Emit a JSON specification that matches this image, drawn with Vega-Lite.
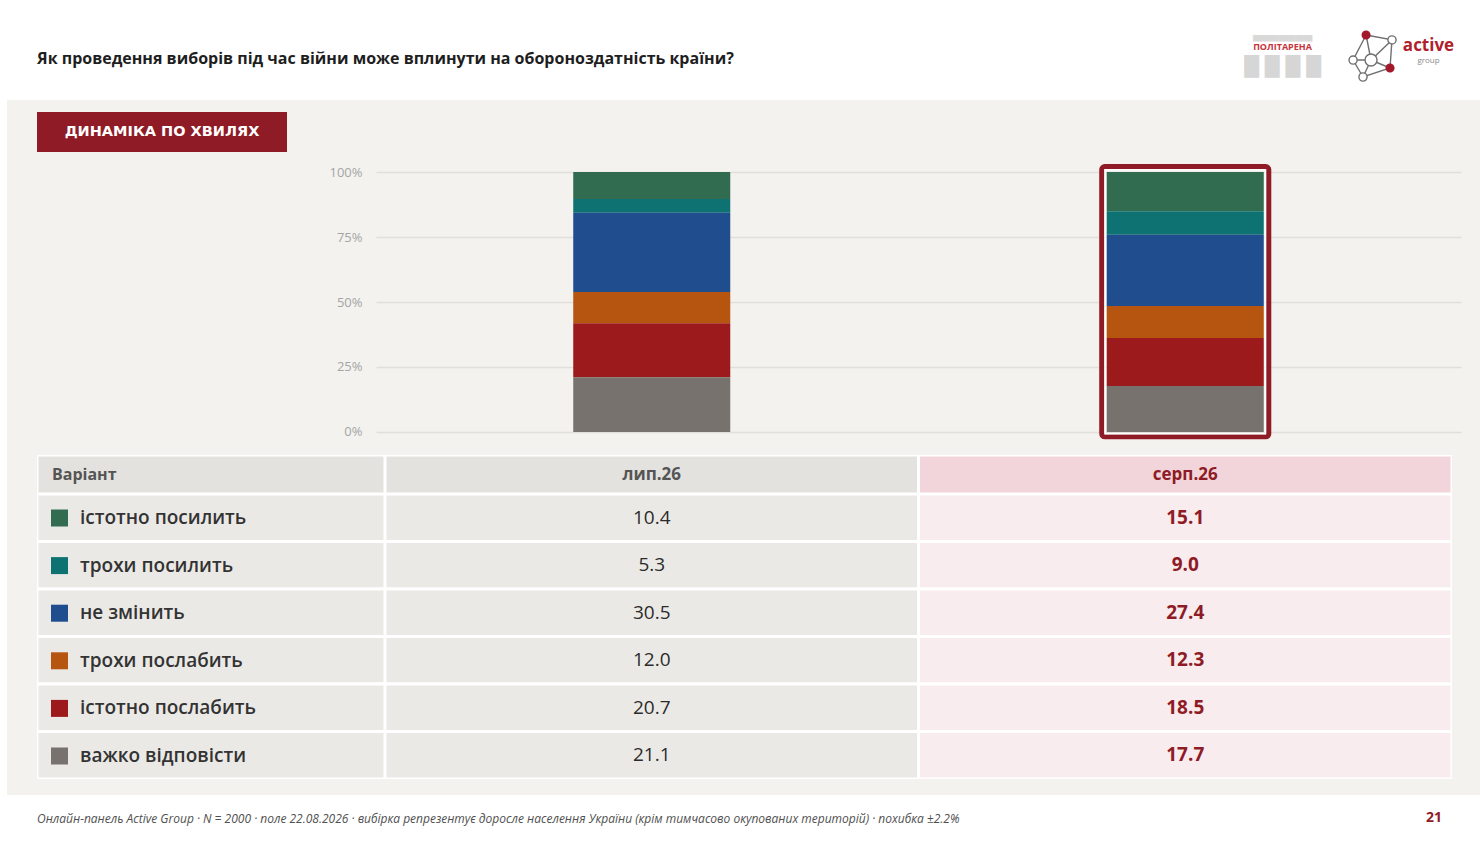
{
  "$schema": "https://vega.github.io/schema/vega-lite/v6.json",
  "background": "#f3f2ee",
  "padding": 0,
  "spacing": 0,
  "config": {"view": {"stroke": null}, "font": "Open Sans", "concat": {"spacing": 0}},
  "data": {"values": [
    {"Хвиля": "лип.26", "Код": 1, "Варіант": "істотно посилить", "Частка": 10.4},
    {"Хвиля": "лип.26", "Код": 2, "Варіант": "трохи посилить", "Частка": 5.3},
    {"Хвиля": "лип.26", "Код": 3, "Варіант": "не змінить", "Частка": 30.5},
    {"Хвиля": "лип.26", "Код": 4, "Варіант": "трохи послабить", "Частка": 12.0},
    {"Хвиля": "лип.26", "Код": 5, "Варіант": "істотно послабить", "Частка": 20.7},
    {"Хвиля": "лип.26", "Код": 6, "Варіант": "важко відповісти", "Частка": 21.1},
    {"Хвиля": "серп.26", "Код": 1, "Варіант": "істотно посилить", "Частка": 15.1},
    {"Хвиля": "серп.26", "Код": 2, "Варіант": "трохи посилить", "Частка": 9.0},
    {"Хвиля": "серп.26", "Код": 3, "Варіант": "не змінить", "Частка": 27.4},
    {"Хвиля": "серп.26", "Код": 4, "Варіант": "трохи послабить", "Частка": 12.3},
    {"Хвиля": "серп.26", "Код": 5, "Варіант": "істотно послабить", "Частка": 18.5},
    {"Хвиля": "серп.26", "Код": 6, "Варіант": "важко відповісти", "Частка": 17.7}
  ]},
  "vconcat": [
    {"spacing": 0, "hconcat": [
      {"width": 1230, "height": 100, "view": {"fill": "#ffffff", "stroke": null},
       "title": {"text": "Як проведення виборів під час війни може вплинути на обороноздатність країни?", "anchor": "start", "frame": "group", "orient": "top", "offset": -75, "dx": 37, "baseline": "middle", "font": "Open Sans", "fontSize": 16, "fontWeight": "bold", "color": "#1e1e1e"},
       "data": {"values": [{}]}, "mark": {"type": "rect", "opacity": 0}},
      {"width": 105, "height": 100, "view": {"fill": "#ffffff", "stroke": null},
       "data": {"values": [{}]},
       "layer": [
         {"mark": {"type": "text", "text": "▄▄▄▄▄▄▄", "font": "DejaVu Sans", "fontSize": 11, "color": "#d9d9d9", "dy": -14}},
         {"mark": {"type": "text", "text": "█ █ █ █", "font": "DejaVu Sans", "fontSize": 19, "color": "#d6d6d6", "dy": 17}},
         {"mark": {"type": "text", "text": "ПОЛІТАРЕНА", "font": "Open Sans", "fontSize": 9, "fontWeight": "bold", "color": "#c8333a", "dy": -3}}
       ]},
      {"width": 65, "height": 100, "view": {"fill": "#ffffff", "stroke": null},
       "data": {"values": [{}]},
       "layer": [
         {"mark": {"type": "point", "shape": "M-0.06,-0.625L1.02,-0.42L0.938,0.75L-0.187,1.125L-0.6,0.417Z M-0.06,-0.625L0.147,0.417L1.02,-0.42 M-0.6,0.417L0.147,0.417L0.938,0.75 M0.147,0.417L-0.187,1.125", "size": 2304, "filled": false, "stroke": "#707070", "strokeWidth": 1.4, "opacity": 1}},
         {"mark": {"type": "point", "shape": "M0.85,-0.42a0.17,0.17 0 1,0 0.34,0a0.17,0.17 0 1,0 -0.34,0Z M-0.103,0.417a0.25,0.25 0 1,0 0.5,0a0.25,0.25 0 1,0 -0.5,0Z M-0.77,0.417a0.17,0.17 0 1,0 0.34,0a0.17,0.17 0 1,0 -0.34,0Z M-0.357,1.125a0.17,0.17 0 1,0 0.34,0a0.17,0.17 0 1,0 -0.34,0Z", "size": 2304, "filled": true, "fill": "#ffffff", "stroke": "#707070", "strokeWidth": 1.4, "opacity": 1}},
         {"mark": {"type": "point", "shape": "M-0.25,-0.625a0.19,0.19 0 1,0 0.38,0a0.19,0.19 0 1,0 -0.38,0Z M0.748,0.75a0.19,0.19 0 1,0 0.38,0a0.19,0.19 0 1,0 -0.38,0Z", "size": 2304, "filled": true, "fill": "#a3192b", "strokeWidth": 0, "opacity": 1}}
       ]},
      {"width": 57, "height": 100, "view": {"fill": "#ffffff", "stroke": null},
       "data": {"values": [{}]},
       "layer": [
         {"mark": {"type": "text", "text": "active", "font": "Open Sans", "fontSize": 17, "fontWeight": "bold", "color": "#b01f2e", "dy": -4}},
         {"mark": {"type": "text", "text": "group", "font": "Open Sans", "fontSize": 8, "color": "#8a8a8a", "dy": 11}}
       ]},
      {"width": 23, "height": 100, "view": {"fill": "#ffffff", "stroke": null}, "data": {"values": [{}]}, "mark": {"type": "rect", "opacity": 0}}
    ]},
    {"spacing": 0, "hconcat": [
      {"width": 7, "height": 695, "view": {"fill": "#ffffff", "stroke": null}, "data": {"values": [{}]}, "mark": {"type": "rect", "opacity": 0}},
      {"spacing": 0, "vconcat": [
        {"width": 1, "height": 12, "data": {"values": [{}]}, "mark": {"type": "rect", "opacity": 0}},
        {"spacing": 0, "hconcat": [
          {"width": 30, "height": 40, "data": {"values": [{}]}, "mark": {"type": "rect", "opacity": 0}},
          {"width": 250, "height": 40, "view": {"fill": "#8e1b25", "stroke": null}, "data": {"values": [{}]},
           "mark": {"type": "text", "text": "ДИНАМІКА ПО ХВИЛЯХ", "font": "DejaVu Sans", "fontSize": 14.5, "fontWeight": "bold", "color": "#ffffff"}}
        ]},
        {"width": 1, "height": 12, "data": {"values": [{}]}, "mark": {"type": "rect", "opacity": 0}},
        {"spacing": 0, "hconcat": [
          {"width": 321, "height": 276, "data": {"values": [{}]}, "mark": {"type": "rect", "opacity": 0}},
          {"width": 1085, "height": 276,
           "layer": [
             {"mark": {"type": "bar"},
              "encoding": {
                "x": {"field": "Хвиля", "type": "nominal", "sort": ["лип.26", "серп.26"], "axis": null, "scale": {"paddingInner": 0.7057, "paddingOuter": 0.3697}},
                "y": {"field": "Частка", "type": "quantitative", "stack": "zero", "scale": {"domain": [-3.08, 103.08], "nice": false, "zero": false},
                      "axis": {"values": [0, 25, 50, 75, 100], "labelExpr": "datum.value + '%'", "title": null, "domain": false, "ticks": false, "labelPadding": 14, "labelColor": "#a5a5a5", "labelFont": "Open Sans", "labelFontSize": 13, "grid": true, "gridColor": "#e1dfdb", "gridWidth": 1.3}},
                "color": {"field": "Варіант", "type": "nominal",
                          "sort": ["істотно посилить", "трохи посилить", "не змінить", "трохи послабить", "істотно послабить", "важко відповісти"],
                          "scale": {"domain": ["істотно посилить", "трохи посилить", "не змінить", "трохи послабить", "істотно послабить", "важко відповісти"],
                                    "range": ["#326c50", "#0e7272", "#1f4d8d", "#b55510", "#9c1a1c", "#77726d"]},
                          "legend": {"orient": "none", "legendX": 50, "legendY": 508.5, "direction": "vertical", "title": null, "symbolType": "square", "symbolSize": 289, "symbolStrokeWidth": 0, "symbolOpacity": 1, "labelFont": "Open Sans", "labelFontSize": 19, "labelFontWeight": 600, "labelColor": "#333333", "labelOffset": 11, "rowPadding": 27.6, "padding": 0, "labelLimit": 400}},
                "order": {"field": "Код", "type": "quantitative", "sort": "descending"}
              }},
             {"transform": [{"filter": "datum['Хвиля'] === 'серп.26'"}, {"aggregate": [{"op": "sum", "field": "Частка", "as": "Разом"}], "groupby": ["Хвиля"]}],
              "mark": {"type": "bar", "fill": "transparent", "stroke": "#8e1b25", "strokeWidth": 5, "cornerRadius": 3, "width": {"band": 1.064}},
              "encoding": {
                "x": {"field": "Хвиля", "type": "nominal", "sort": ["лип.26", "серп.26"], "axis": null},
                "y": {"datum": 102.1}, "y2": {"datum": -1.85}}},
             {"transform": [{"filter": "datum['Хвиля'] === 'серп.26'"}, {"aggregate": [{"op": "sum", "field": "Частка", "as": "Разом"}], "groupby": ["Хвиля"]}],
              "mark": {"type": "bar", "fill": "transparent", "stroke": "#ffffff", "strokeWidth": 1.5, "width": {"band": 1.02}},
              "encoding": {
                "x": {"field": "Хвиля", "type": "nominal", "sort": ["лип.26", "серп.26"], "axis": null},
                "y": {"datum": 100.9}, "y2": {"datum": -0.7}}}
           ]}
        ]},
        {"width": 1, "height": 15, "data": {"values": [{}]}, "mark": {"type": "rect", "opacity": 0}},
        {"spacing": 0, "hconcat": [
          {"width": 30, "height": 324, "data": {"values": [{}]}, "mark": {"type": "rect", "opacity": 0}},
          {"spacing": 0, "vconcat": [
            {"spacing": 0, "hconcat": [
              {"width": 348, "height": 39, "view": {"fill": "#ffffff", "stroke": null},
               "data": {"values": [{"Колонка": "Варіант"}]},
               "layer": [
                 {"mark": {"type": "rect", "fill": "#e4e2df", "stroke": "#ffffff", "strokeWidth": 3, "clip": true}},
                 {"mark": {"type": "text", "align": "left", "baseline": "middle", "dx": 15, "font": "Open Sans", "fontSize": 16, "fontWeight": "bold", "color": "#555555"},
                  "encoding": {"x": {"datum": "Варіант", "type": "nominal", "bandPosition": 0, "axis": null, "scale": {"type": "band", "paddingInner": 0, "paddingOuter": 0}},
                               "text": {"field": "Колонка"}}}
               ]},
              {"width": 1067, "height": 39, "view": {"fill": "#ffffff", "stroke": null},
               "transform": [{"aggregate": [{"op": "count", "as": "n"}], "groupby": ["Хвиля"]}],
               "encoding": {"x": {"field": "Хвиля", "type": "nominal", "sort": ["лип.26", "серп.26"], "axis": null, "scale": {"type": "band", "paddingInner": 0, "paddingOuter": 0}}},
               "layer": [
                 {"mark": {"type": "rect", "stroke": "#ffffff", "strokeWidth": 3, "clip": true},
                  "encoding": {"fill": {"condition": {"test": "datum['Хвиля'] === 'серп.26'", "value": "#f2d5da"}, "value": "#e4e2df"}}},
                 {"mark": {"type": "text", "baseline": "middle", "font": "Open Sans", "fontSize": 17, "fontWeight": "bold"},
                  "encoding": {"text": {"field": "Хвиля"},
                               "color": {"condition": {"test": "datum['Хвиля'] === 'серп.26'", "value": "#8e1b25"}, "value": "#555555"}}}
               ]}
            ]},
            {"spacing": 0, "hconcat": [
              {"width": 348, "height": 285, "view": {"fill": "#ffffff", "stroke": null},
               "transform": [{"filter": "datum['Хвиля'] === 'лип.26'"}],
               "mark": {"type": "rect", "fill": "#ebe9e6", "stroke": "#ffffff", "strokeWidth": 3, "clip": true},
               "encoding": {"y": {"field": "Варіант", "type": "nominal", "sort": ["істотно посилить", "трохи посилить", "не змінить", "трохи послабить", "істотно послабить", "важко відповісти"], "axis": null, "scale": {"type": "band", "paddingInner": 0, "paddingOuter": 0}}}},
              {"width": 1067, "height": 285, "view": {"fill": "#ffffff", "stroke": null},
               "encoding": {
                 "x": {"field": "Хвиля", "type": "nominal", "sort": ["лип.26", "серп.26"], "axis": null, "scale": {"type": "band", "paddingInner": 0, "paddingOuter": 0}},
                 "y": {"field": "Варіант", "type": "nominal", "sort": ["істотно посилить", "трохи посилить", "не змінить", "трохи послабить", "істотно послабить", "важко відповісти"], "axis": null, "scale": {"type": "band", "paddingInner": 0, "paddingOuter": 0}}},
               "layer": [
                 {"mark": {"type": "rect", "stroke": "#ffffff", "strokeWidth": 3, "clip": true},
                  "encoding": {"fill": {"condition": {"test": "datum['Хвиля'] === 'серп.26'", "value": "#f9ecee"}, "value": "#ebe9e6"}}},
                 {"transform": [{"filter": "datum['Хвиля'] === 'лип.26'"}],
                  "mark": {"type": "text", "baseline": "middle", "font": "Open Sans", "fontSize": 19, "fontWeight": 500, "color": "#2b2b2b"},
                  "encoding": {"text": {"field": "Частка", "type": "quantitative", "format": ".1f"}}},
                 {"transform": [{"filter": "datum['Хвиля'] === 'серп.26'"}],
                  "mark": {"type": "text", "baseline": "middle", "font": "Open Sans", "fontSize": 19, "fontWeight": "bold", "color": "#8e1b25"},
                  "encoding": {"text": {"field": "Частка", "type": "quantitative", "format": ".1f"}}}
               ]}
            ]}
          ]}
        ]}
      ]}
    ]},
    {"spacing": 0, "hconcat": [
      {"width": 1388, "height": 53, "view": {"fill": "#ffffff", "stroke": null},
       "title": {"text": "Онлайн-панель Active Group · N = 2000 · поле 22.08.2026 · вибірка репрезентує доросле населення України (крім тимчасово окупованих територій) · похибка ±2.2%", "anchor": "start", "frame": "group", "orient": "top", "offset": -36, "dx": 37, "baseline": "middle", "font": "Open Sans", "fontSize": 12, "fontStyle": "italic", "fontWeight": "normal", "color": "#505050"},
       "data": {"values": [{}]}, "mark": {"type": "rect", "opacity": 0}},
      {"width": 92, "height": 53, "view": {"fill": "#ffffff", "stroke": null}, "data": {"values": [{}]},
       "mark": {"type": "text", "text": "21", "font": "Open Sans", "fontSize": 14, "fontWeight": "bold", "color": "#8e1b25", "dy": -3.5}}
    ]}
  ]
}
